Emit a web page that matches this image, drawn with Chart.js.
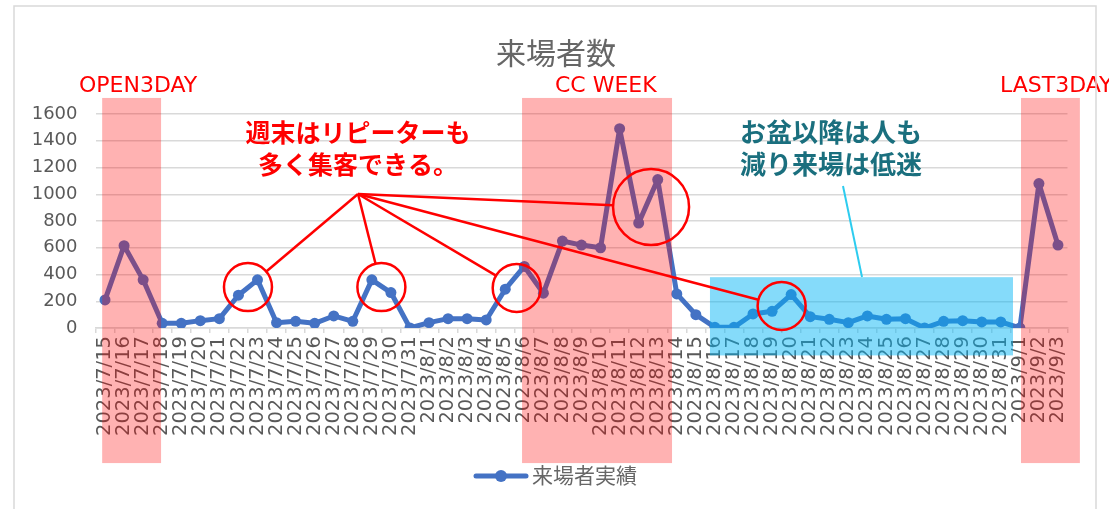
<!DOCTYPE html>
<html lang="ja">
  <head>
    <meta charset="UTF-8" />
    <title>来場者数</title>
    <script src="https://cdn.jsdelivr.net/npm/chart.js"></script>
    <style>
      html, body {
        margin: 0;
        padding: 0;
        background: #ffffff;
      }
      .chart-container {
        width: 1109px;
        height: 509px;
        position: relative;
      }
    </style>
  </head>
  <body>
    <div class="chart-container">
      <canvas id="visitChart"></canvas>
    </div>

    <script>
      // 日付
      const categories = [
        "2023/7/15", "2023/7/16", "2023/7/17", "2023/7/18", "2023/7/19", "2023/7/20",
        "2023/7/21", "2023/7/22", "2023/7/23", "2023/7/24", "2023/7/25", "2023/7/26",
        "2023/7/27", "2023/7/28", "2023/7/29", "2023/7/30", "2023/7/31", "2023/8/1",
        "2023/8/2", "2023/8/3", "2023/8/4", "2023/8/5", "2023/8/6", "2023/8/7",
        "2023/8/8", "2023/8/9", "2023/8/10", "2023/8/11", "2023/8/12", "2023/8/13",
        "2023/8/14", "2023/8/15", "2023/8/16", "2023/8/17", "2023/8/18", "2023/8/19",
        "2023/8/20", "2023/8/21", "2023/8/22", "2023/8/23", "2023/8/24", "2023/8/25",
        "2023/8/26", "2023/8/27", "2023/8/28", "2023/8/29", "2023/8/30", "2023/8/31",
        "2023/9/1", "2023/9/2", "2023/9/3",
      ];

      // 来場者実績
      const visitors = [
        210, 615, 360, 35, 35, 55,
        70, 245, 360, 40, 50, 35,
        90, 50, 360, 265, 0, 40,
        70, 70, 60, 290, 460, 260,
        650, 620, 600, 1490, 785, 1110,
        255, 100, 5, 5, 105, 125,
        250, 85, 65, 40, 90, 65,
        70, 0, 50, 55, 45, 45,
        0, 1080, 620,
      ];

      const yTicks = [0, 200, 400, 600, 800, 1000, 1200, 1400, 1600];

      const seriesName = "来場者実績";
      const chartTitle = "来場者数";

      const CJK = '"Noto Sans CJK JP", sans-serif';
      const NUM = '"DejaVu Sans", sans-serif';

      // 期間の帯 (カテゴリ位置, 値)
      const bands = [
        { from: -0.15, to: 2.94, top: 1720, bottom: -1010, color: "rgba(255,0,0,0.3)", label: "OPEN3DAY", lx: 79 },
        { from: 21.88, to: 29.75, top: 1720, bottom: -1010, color: "rgba(255,0,0,0.3)", label: "CC WEEK", lx: 555 },
        { from: 48.06, to: 51.15, top: 1720, bottom: -1010, color: "rgba(255,0,0,0.3)", label: "LAST3DAY", lx: 1000 },
        { from: 31.74, to: 47.64, top: 380, bottom: -205, color: "rgba(0,180,245,0.48)" },
      ];

      // 週末の丸
      const circles = [
        { at: 7.5, v: 306, r: 24 },
        { at: 14.5, v: 306, r: 24 },
        { at: 21.6, v: 300, r: 24 },
        { at: 28.65, v: 905, r: 38 },
        { at: 35.5, v: 165, r: 24 },
      ];

      const overlay = {
        id: "overlay",
        afterDraw(chart) {
          const { ctx } = chart;
          const x = chart.scales.x;
          const y = chart.scales.y;

          ctx.save();

          // 帯
          bands.forEach((b) => {
            const x1 = x.getPixelForValue(b.from);
            const x2 = x.getPixelForValue(b.to);
            const y1 = y.getPixelForValue(b.top);
            const y2 = y.getPixelForValue(b.bottom);
            ctx.fillStyle = b.color;
            ctx.fillRect(x1, y1, x2 - x1, y2 - y1);
            if (b.label) {
              ctx.fillStyle = "#FF0000";
              ctx.font = "22px " + NUM;
              ctx.textAlign = "left";
              ctx.textBaseline = "alphabetic";
              ctx.fillText(b.label, b.lx, 92);
            }
          });

          // 丸と線
          const ax = 358, ay = 194;
          ctx.strokeStyle = "#FF0000";
          ctx.lineWidth = 2.5;
          circles.forEach((c) => {
            const cx = x.getPixelForValue(c.at);
            const cy = y.getPixelForValue(c.v);
            ctx.beginPath();
            ctx.arc(cx, cy, c.r, 0, Math.PI * 2);
            ctx.stroke();
            const dx = ax - cx, dy = ay - cy;
            const len = Math.hypot(dx, dy);
            ctx.beginPath();
            ctx.moveTo(ax, ay);
            ctx.lineTo(cx + (dx / len) * c.r, cy + (dy / len) * c.r);
            ctx.stroke();
          });

          // 水色の線
          ctx.strokeStyle = "#2DCCEF";
          ctx.lineWidth = 2;
          ctx.beginPath();
          ctx.moveTo(843, 186);
          ctx.lineTo(862, 277);
          ctx.stroke();

          // コメント
          ctx.textAlign = "center";
          ctx.textBaseline = "middle";
          ctx.fillStyle = "#FF0000";
          ctx.font = "bold 25px " + CJK;
          ctx.fillText("週末はリピーターも", 358, 132);
          ctx.fillText("多く集客できる。", 358, 164);
          ctx.fillStyle = "#1A6F7E";
          ctx.font = "bold 26px " + CJK;
          ctx.fillText("お盆以降は人も", 831, 132);
          ctx.fillText("減り来場は低迷", 831, 164);

          // タイトル
          ctx.fillStyle = "#666666";
          ctx.font = "30px " + CJK;
          ctx.fillText(chartTitle, 556, 53);

          // 凡例
          ctx.strokeStyle = "#4472C4";
          ctx.lineWidth = 5;
          ctx.lineCap = "round";
          ctx.beginPath();
          ctx.moveTo(476, 476);
          ctx.lineTo(526, 476);
          ctx.stroke();
          ctx.fillStyle = "#4472C4";
          ctx.beginPath();
          ctx.arc(501, 476, 6, 0, Math.PI * 2);
          ctx.fill();
          ctx.fillStyle = "#666666";
          ctx.font = "21px " + CJK;
          ctx.textAlign = "left";
          ctx.fillText(seriesName, 532, 475);

          // 枠
          ctx.strokeStyle = "#D9D9D9";
          ctx.lineWidth = 1.5;
          ctx.strokeRect(14, 6, 1082, 520);

          ctx.restore();
        },
      };

      const ctx = document.getElementById("visitChart").getContext("2d");

      new Chart(ctx, {
        type: "line",
        data: {
          labels: categories,
          datasets: [
            {
              label: seriesName,
              data: visitors,
              borderColor: "#4472C4",
              backgroundColor: "#4472C4",
              borderWidth: 5,
              borderJoinStyle: "round",
              borderCapStyle: "round",
              pointRadius: 5.5,
              pointHoverRadius: 5.5,
              pointBorderWidth: 0,
              tension: 0,
            },
          ],
        },
        options: {
          responsive: true,
          maintainAspectRatio: false,
          animation: false,
          layout: {
            padding: { left: 0, right: 41.5, top: 114, bottom: 0 },
          },
          plugins: {
            legend: { display: false },
            title: { display: false },
            tooltip: { enabled: false },
          },
          scales: {
            x: {
              offset: true,
              afterFit: (s) => {
                s.height = 181;
              },
              grid: {
                offset: true,
                drawOnChartArea: false,
                drawTicks: true,
                tickLength: 5,
                color: "#D9D9D9",
                lineWidth: 1.5,
              },
              border: { color: "#D9D9D9", width: 1.5 },
              ticks: {
                autoSkip: false,
                maxRotation: 90,
                minRotation: 90,
                padding: 3,
                color: "#595959",
                font: { family: NUM, size: 19.5 },
              },
            },
            y: {
              min: 0,
              max: 1600,
              afterFit: (s) => {
                s.width = 95.5;
              },
              afterBuildTicks: (s) => {
                s.ticks = yTicks.map((v) => ({ value: v }));
              },
              grid: {
                drawTicks: false,
                color: "#D9D9D9",
                lineWidth: 1.5,
              },
              border: { display: false },
              ticks: {
                padding: 18,
                color: "#595959",
                font: { family: NUM, size: 18 },
                callback: (v) => String(v),
              },
            },
          },
        },
        plugins: [overlay],
      });
    </script>
  </body>
</html>
